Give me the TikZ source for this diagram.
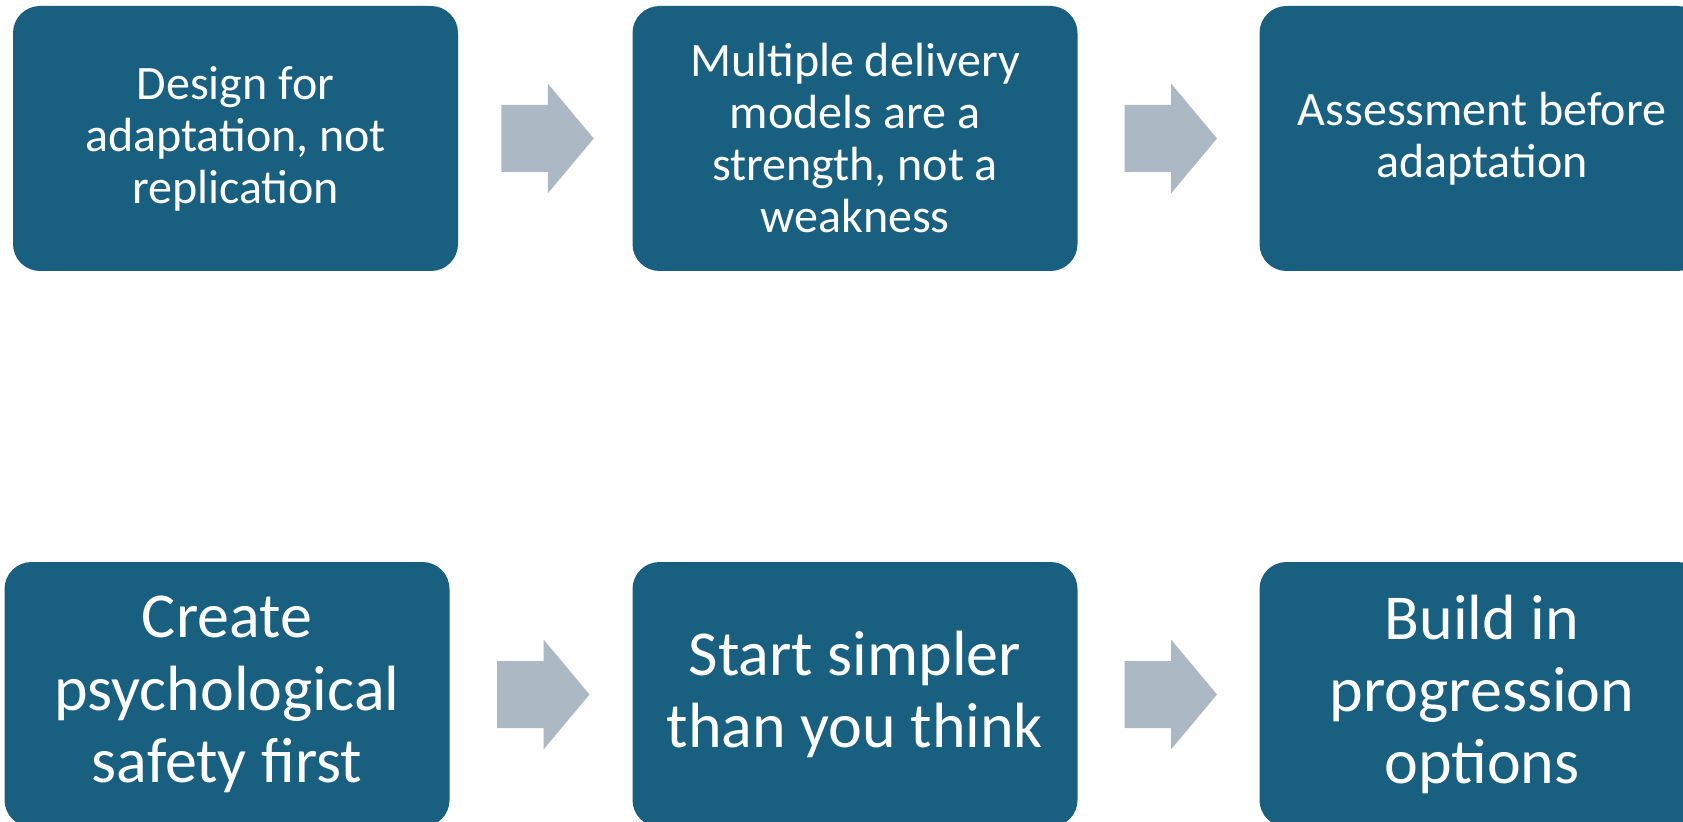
\documentclass[tikz,border=0pt]{standalone}
\usepackage{fontspec}
\setmainfont{Carlito}
\usetikzlibrary{calc}
\definecolor{tile}{RGB}{24, 95, 128}
\definecolor{pale}{RGB}{172, 184, 196}
\tikzset{
  tilebox/.style={fill=tile, rounded corners=13.5pt, minimum width=222.5pt,
                  minimum height=132.5pt, inner sep=0pt, text=white, align=center},
  toptext/.style={font=\fontsize{24}{26}\selectfont},
  bottomtext/.style={font=\fontsize{32}{36.2}\selectfont}
}
\newcommand{\blockarrow}[2]{
  \fill[pale] ($(#1.east)!0.5!(#2.west)$)
    ++(-44, 33.5) -- ++(46.5, 0) -- ++(0, 21.5) -- ++(46, -55)
    -- ++(-46, -55) -- ++(0, 21.5) -- ++(-46.5, 0) -- cycle;
}

\begin{document}
\begin{tikzpicture}[x=0.5pt, y=0.5pt]
  % Frame
  \useasboundingbox (0, 0) rectangle (1683, 821);

  % Rows
  \pgfmathsetmacro{\yA}{682.5}
  \pgfmathsetmacro{\yB}{126.5}

  \node[tilebox, toptext] (design) at (235.5, \yA) {Design for\\adaptation, not\\replication};
  \node[tilebox, toptext] (models) at (855, \yA) {Multiple delivery\\models are a\\strength, not a\\weakness};
  \node[tilebox, toptext] (assess) at (1482, \yA) {Assessment before\\adaptation};

  \blockarrow{design}{models}
  \blockarrow{models}{assess}

  \node[tilebox, bottomtext] (safety) at (227, \yB) {Create\\psychological\\safety first};
  \node[tilebox, bottomtext] (simple) at (855, \yB) {Start simpler\\than you think};
  \node[tilebox, bottomtext] (build) at (1482, \yB) {Build in\\progression\\options};

  \blockarrow{safety}{simple}
  \blockarrow{simple}{build}
\end{tikzpicture}
\end{document}
